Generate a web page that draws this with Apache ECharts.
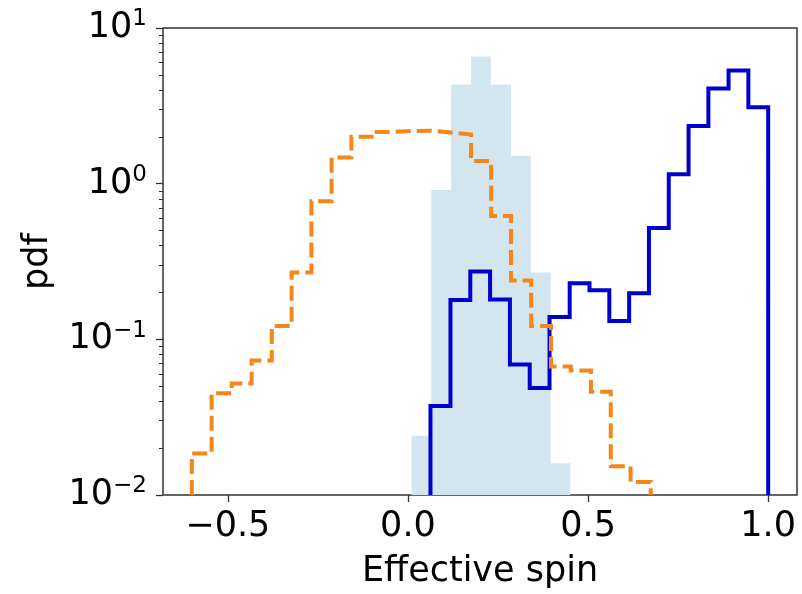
<!DOCTYPE html>
<html>
<head>
<meta charset="utf-8">
<script src="https://cdn.jsdelivr.net/npm/echarts@6/dist/echarts.min.js"></script>
<style>
html,body{margin:0;padding:0;background:#fff;}
#chart{width:802px;height:594px;}
</style>
</head>
<body>
<div id="chart"></div>
<script>
// ---- data ----
const orangeEdges = [-0.600, -0.545, -0.489, -0.434, -0.378, -0.323, -0.268, -0.212, -0.157, -0.101, -0.046, 0.009, 0.065, 0.120, 0.175, 0.231, 0.286, 0.342, 0.397, 0.452, 0.508, 0.563, 0.618, 0.674];
const orangeValues = [0.0185, 0.045, 0.052, 0.073, 0.122, 0.269, 0.77, 1.47, 2.0, 2.15, 2.18, 2.19, 2.13, 2.07, 1.40, 0.62, 0.239, 0.122, 0.067, 0.063, 0.046, 0.0153, 0.0121];

const blueEdges = [0.0625, 0.118, 0.173, 0.228, 0.283, 0.338, 0.393, 0.449, 0.504, 0.559, 0.614, 0.669, 0.724, 0.779, 0.834, 0.890, 0.945, 1.000];
const blueValues = [0.0373, 0.179, 0.273, 0.18, 0.069, 0.0486, 0.139, 0.229, 0.207, 0.131, 0.198, 0.52, 1.15, 2.35, 4.09, 5.33, 3.10];

const lightEdges = [0.010, 0.065, 0.120, 0.175, 0.230, 0.286, 0.341, 0.396, 0.451];
const lightValues = [0.024, 0.91, 4.34, 6.55, 4.34, 1.51, 0.269, 0.016];

const xTicks = [-0.5, 0.0, 0.5, 1.0];
const yMinorTicks = [0.02,0.03,0.04,0.05,0.06,0.07,0.08,0.09,0.2,0.3,0.4,0.5,0.6,0.7,0.8,0.9,2,3,4,5,6,7,8,9];
const xName = 'Effective spin';
const yName = 'pdf';

// ---- build step paths ----
const FLOOR = 0.01;
function stepPoints(edges, values, withFloor) {
  const pts = [];
  if (withFloor) pts.push([edges[0], FLOOR]);
  for (let i = 0; i < values.length; i++) {
    pts.push([edges[i], values[i]]);
    pts.push([edges[i + 1], values[i]]);
  }
  if (withFloor) pts.push([edges[edges.length - 1], FLOOR]);
  return pts;
}

const FONT = 'DejaVu Sans';
const chart = echarts.init(document.getElementById('chart'), null, {renderer: 'canvas'});

function fmtX(v) {
  const s = Math.abs(v).toFixed(1);
  return (v < 0 ? '\u2212' : '') + s;
}
function fmtY(v) {
  const e = Math.round(Math.log10(v));
  return '{b|10}{s|' + (e < 0 ? '\u2212' + (-e) : String(e)) + '}';
}

chart.setOption({
  animation: false,
  backgroundColor: '#ffffff',
  grid: {
    left: 163, right: 5, top: 28, bottom: 94,
    show: true, borderColor: '#333333', borderWidth: 1.5, backgroundColor: 'transparent'
  },
  xAxis: {
    type: 'value', min: -0.68, max: 1.08,
    name: xName, nameLocation: 'middle', nameGap: 59,
    nameTextStyle: {fontFamily: FONT, fontSize: 35, color: '#000'},
    axisLine: {show: false, onZero: false},
    splitLine: {show: false},
    axisTick: {show: true, length: 7, lineStyle: {color: '#333', width: 1.3}, customValues: xTicks},
    axisLabel: {fontFamily: FONT, fontSize: 35, color: '#000', margin: 14, customValues: xTicks, formatter: fmtX}
  },
  yAxis: [{
    type: 'log', logBase: 10, min: 0.01, max: 10,
    name: yName, nameLocation: 'middle', nameGap: 108, nameRotate: 90,
    nameTextStyle: {fontFamily: FONT, fontSize: 35, color: '#000'},
    axisLine: {show: false, onZero: false},
    splitLine: {show: false},
    axisTick: {show: true, length: 7, lineStyle: {color: '#333', width: 1.3}},
    axisLabel: {
      margin: 16, formatter: fmtY,
      rich: {
        b: {fontFamily: FONT, fontSize: 35, color: '#000', lineHeight: 40},
        s: {fontFamily: FONT, fontSize: 23, color: '#000', lineHeight: 24, verticalAlign: 'top'}
      }
    }
  }, {
    type: 'log', logBase: 10, min: 0.01, max: 10, position: 'left', offset: 0,
    axisLine: {show: false, onZero: false}, splitLine: {show: false},
    axisLabel: {show: false},
    axisTick: {show: true, length: 4, lineStyle: {color: '#333', width: 1}, customValues: yMinorTicks}
  }],
  series: [
    {
      type: 'line', name: 'light', yAxisIndex: 0, z: 1,
      data: stepPoints(lightEdges, lightValues, false),
      showSymbol: false, symbol: 'none',
      lineStyle: {width: 0, color: '#d3e6ef'},
      areaStyle: {color: '#d3e6ef', opacity: 1, origin: 'start'},
      clip: true
    },
    {
      type: 'line', name: 'blue', yAxisIndex: 0, z: 3,
      data: stepPoints(blueEdges, blueValues, true),
      showSymbol: false, symbol: 'none',
      lineStyle: {width: 4, color: '#0000cc', join: 'miter', cap: 'butt'},
      clip: true
    },
    {
      type: 'line', name: 'orange', yAxisIndex: 0, z: 4,
      data: stepPoints(orangeEdges, orangeValues, true),
      showSymbol: false, symbol: 'none',
      lineStyle: {width: 4, color: '#f5861a', type: [15, 6], join: 'miter', cap: 'butt'},
      clip: true
    }
  ]
});
</script>
</body>
</html>
